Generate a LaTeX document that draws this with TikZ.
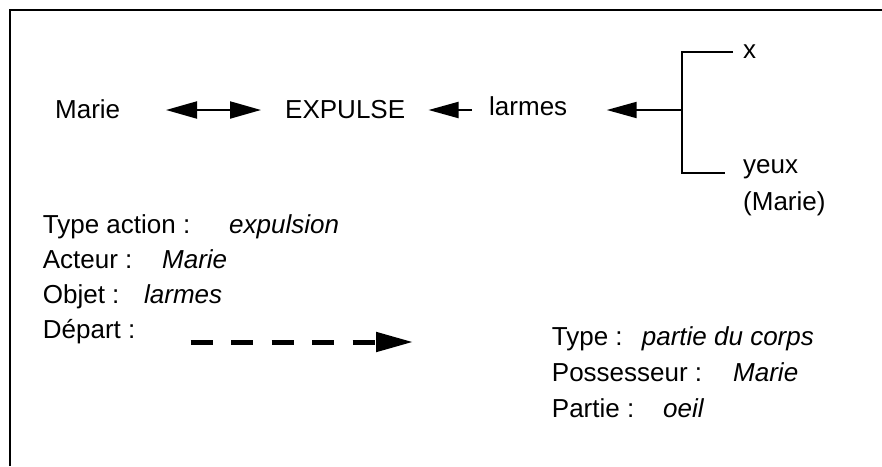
\documentclass[tikz,border=0pt]{standalone}
\usepackage{fontspec}
\setmainfont{Liberation Sans}
\usetikzlibrary{arrows.meta}
\tikzset{
  txt/.style={inner sep=0pt, anchor=base west, font=\fontsize{26}{31}\selectfont},
  conn/.style={line width=2pt},
  head/.style={-{Triangle[length=30pt,width=16pt]}},
  dblhead/.style={{Triangle[length=31pt,width=17pt]}-{Triangle[length=31pt,width=17pt]}},
  dashhead/.style={-{Triangle[length=37pt,width=19pt]}, line width=5pt, dash pattern=on 22pt off 18.5pt},
  frame/.style={line width=2pt}
}
\begin{document}
\begin{tikzpicture}[x=1pt,y=-1pt]
\useasboundingbox (0,0) rectangle (882,466);
\fill[white] (0,0) rectangle (882,466);
% frame (cut by the page on the right and bottom)
\coordinate (fb) at (10,466);
\coordinate (fc) at (10,10);
\coordinate (fr) at (882,10);
\draw[frame] (fb) -- (fc) -- (fr);

% main row
\node[txt] (marie) at (55,118) {Marie};
\node[txt] (expulse) at (285,118) {EXPULSE};
\node[txt] (larmes) at (489,115) {larmes};
\node[txt] (x) at (743,58.5) {x};
\node[txt] (yeux) at (743,173) {yeux};
\node[txt] (yeuxm) at (743,210) {(Marie)};

\coordinate (d1) at (166,110);
\coordinate (d2) at (261,110);
\draw[conn,dblhead] (d1) -- (d2);

\coordinate (l1) at (472,110);
\coordinate (l2) at (428.5,110);
\draw[conn,head] (l1) -- (l2);

\coordinate (tm) at (681.7,110);
\coordinate (tt) at (681.7,51.7);
\coordinate (tb) at (681.7,173);
\coordinate (tx) at (733,51.7);
\coordinate (ty) at (725,173);
\coordinate (ta) at (606.7,110);
\draw[conn] (tx) -- (tt) -- (tb) -- (ty);
\draw[conn,head] (tm) -- (ta);

% left attribute list
\node[txt] (l1t) at (42.7,233) {\makebox[186.3pt][l]{Type action :}\textit{expulsion}};
\node[txt] (l2t) at (42.7,268) {\makebox[119.3pt][l]{Acteur :}\textit{Marie}};
\node[txt] (l3t) at (42.7,303) {\makebox[101.3pt][l]{Objet :}\textit{larmes}};
\node[txt] (l4t) at (42.7,338) {Départ :};

\coordinate (ds) at (190.7,342);
\coordinate (de) at (413,342);
\draw[dashhead] (ds) -- (de);

% right attribute list
\node[txt] (r1t) at (551.7,345) {\makebox[90pt][l]{Type :}\textit{partie du corps}};
\node[txt] (r2t) at (551.7,381) {\makebox[181.3pt][l]{Possesseur :}\textit{Marie}};
\node[txt] (r3t) at (551.7,417) {\makebox[111.3pt][l]{Partie :}\textit{oeil}};
\end{tikzpicture}
\end{document}
